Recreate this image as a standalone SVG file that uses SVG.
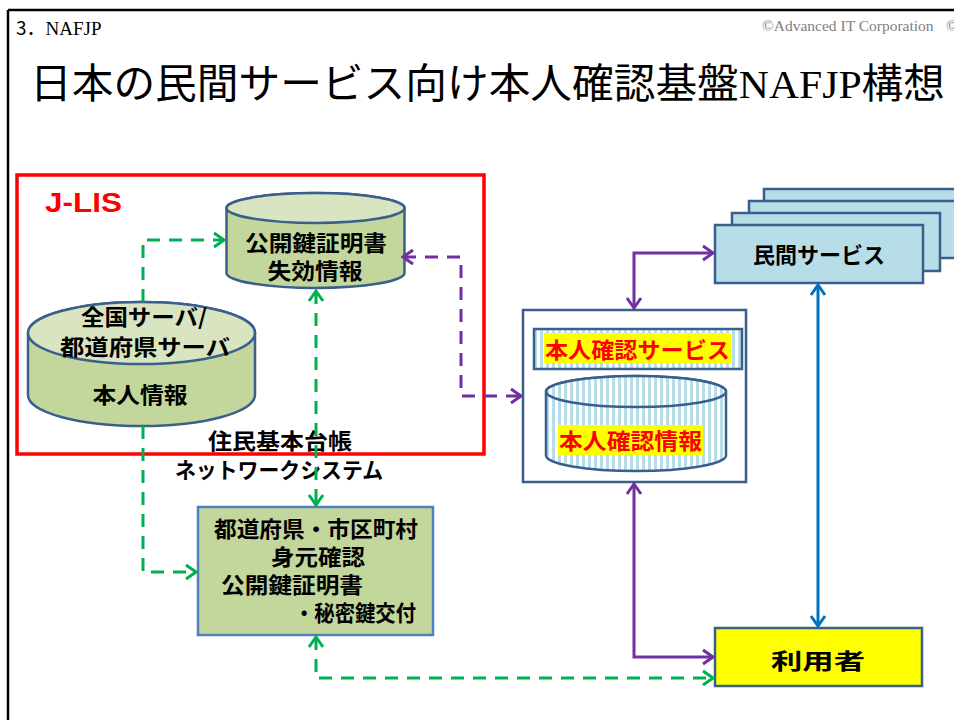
<svg xmlns="http://www.w3.org/2000/svg" width="954" height="720" viewBox="0 0 954 720">
<style>
.jp{font-family:"Noto Sans CJK JP","Noto Sans",sans-serif;font-weight:700;fill:#000}
.lbl{font-size:22px;text-anchor:middle}
.red{fill:#ff0000}
.node{stroke:#3a5f8c;stroke-width:2.5}
.olive{fill:#c3d69b}
.olivetop{fill:#d9e5c0}
.svc{fill:#b7dde8}
.g{fill:none;stroke:#00b050;stroke-width:3;stroke-dasharray:13 9}
.p{fill:none;stroke:#7030a0;stroke-width:3}
.pd{stroke-dasharray:13 9}
.b{fill:none;stroke:#0070c0;stroke-width:3}
</style>
<defs>
<pattern id="stripe" width="6" height="10" patternUnits="userSpaceOnUse">
<rect width="6" height="10" fill="#ffffff"/>
<rect x="0" width="3" height="10" fill="#b7dde8"/>
</pattern>
<marker id="ag" viewBox="0 0 14 18" refX="12" refY="9" markerWidth="14" markerHeight="18" markerUnits="userSpaceOnUse" orient="auto-start-reverse">
<path d="M2,2 L12,9 L2,16" fill="none" stroke="#00b050" stroke-width="3"/>
</marker>
<marker id="ap" viewBox="0 0 14 18" refX="12" refY="9" markerWidth="14" markerHeight="18" markerUnits="userSpaceOnUse" orient="auto-start-reverse">
<path d="M2,2 L12,9 L2,16" fill="none" stroke="#7030a0" stroke-width="3"/>
</marker>
<marker id="ab" viewBox="0 0 14 18" refX="12" refY="9" markerWidth="14" markerHeight="18" markerUnits="userSpaceOnUse" orient="auto-start-reverse">
<path d="M2,2 L12,9 L2,16" fill="none" stroke="#0070c0" stroke-width="3"/>
</marker>
</defs>
<rect width="954" height="720" fill="#ffffff"/>
<g id="frame">
<path d="M8,10 H954 M8,10 V720" fill="none" stroke="#000" stroke-width="2.5"/>
<text x="16" y="35" font-family="Liberation Serif,'Noto Sans CJK JP',serif" font-size="19"><tspan font-family="'Noto Sans CJK JP',sans-serif">3．</tspan>NAFJP</text>
<text x="762" y="31" font-family="Liberation Serif,serif" font-size="15.5" fill="#808080">©Advanced IT Corporation</text>
<text x="946" y="31" font-family="Liberation Serif,serif" font-size="15.5" fill="#808080">©</text>
<text x="30" y="98" font-family="Liberation Serif,'Noto Sans CJK JP',serif" font-size="41" textLength="915" lengthAdjust="spacingAndGlyphs"><tspan font-family="'Noto Sans CJK JP',sans-serif">日本の民間サービス向け本人確認基盤</tspan>NAFJP<tspan font-family="'Noto Sans CJK JP',sans-serif">構想</tspan></text>
</g>
<g id="jlis">
<rect x="17" y="175" width="467" height="279" fill="none" stroke="#ff0000" stroke-width="3.5"/>
<text x="45" y="212" font-family="Liberation Sans,Arial,sans-serif" font-weight="700" font-size="28" fill="#ff0000" textLength="77" lengthAdjust="spacingAndGlyphs">J-LIS</text>
</g>
<g id="cert-db">
<path class="node olive" d="M226.5,208 V273 A89,15 0 0 0 404.5,273 V208 A89,15 0 0 0 226.5,208 Z"/>
<ellipse class="node olivetop" cx="315.5" cy="208" rx="89" ry="15"/>
<text class="jp lbl" x="316" y="251" textLength="142" lengthAdjust="spacingAndGlyphs">公開鍵証明書</text>
<text class="jp lbl" x="315" y="279" textLength="95" lengthAdjust="spacingAndGlyphs">失効情報</text>
</g>
<g id="server-db">
<path class="node olive" d="M28,333 V395 A113.5,31 0 0 0 255,395 V333 A113.5,31 0 0 0 28,333 Z"/>
<ellipse class="node olivetop" cx="141.5" cy="333" rx="113.5" ry="31"/>
<text class="jp lbl" x="144" y="325" textLength="126" lengthAdjust="spacingAndGlyphs">全国サーバ/</text>
<text class="jp lbl" x="145" y="355" textLength="170" lengthAdjust="spacingAndGlyphs">都道府県サーバ</text>
<text class="jp lbl" x="140" y="403" textLength="95" lengthAdjust="spacingAndGlyphs">本人情報</text>
</g>
<g id="network-label">
<text class="jp lbl" x="280" y="449" textLength="144" lengthAdjust="spacingAndGlyphs">住民基本台帳</text>
<text class="jp lbl" x="279" y="478" textLength="208" lengthAdjust="spacingAndGlyphs">ネットワークシステム</text>
</g>
<g id="municipality">
<rect x="198" y="507" width="235" height="128" fill="#c3d69b" stroke="#4f81bd" stroke-width="2.5"/>
<text class="jp lbl" x="316" y="537" textLength="204" lengthAdjust="spacingAndGlyphs">都道府県・市区町村</text>
<text class="jp lbl" x="318" y="565" textLength="94" lengthAdjust="spacingAndGlyphs">身元確認</text>
<text class="jp" font-size="22" x="221" y="593" textLength="142" lengthAdjust="spacingAndGlyphs">公開鍵証明書</text>
<text class="jp" font-size="22" x="416" y="621" text-anchor="end" textLength="122" lengthAdjust="spacingAndGlyphs">・秘密鍵交付</text>
</g>
<g id="private-services">
<rect class="node svc" x="764" y="189" width="208" height="57"/>
<rect class="node svc" x="749" y="201" width="208" height="57"/>
<rect class="node svc" x="732" y="213" width="208" height="58"/>
<rect class="node svc" x="715" y="225" width="208" height="58"/>
<text class="jp lbl" x="819" y="263" font-size="23" textLength="132" lengthAdjust="spacingAndGlyphs">民間サービス</text>
</g>
<g id="id-service">
<rect x="523" y="310" width="223" height="172" fill="#ffffff" stroke="#3a5f8c" stroke-width="2.5"/>
<rect x="534" y="329" width="208" height="40" fill="url(#stripe)" stroke="#3a5f8c" stroke-width="2.5"/>
<rect x="544" y="333" width="187" height="30" fill="#ffff00"/>
<text class="jp lbl red" x="637.5" y="358" font-size="23" textLength="185" lengthAdjust="spacingAndGlyphs">本人確認サービス</text>
<path d="M546,391.5 V455.5 A90,15.5 0 0 0 726,455.5 V391.5 A90,15.5 0 0 0 546,391.5 Z" fill="url(#stripe)" stroke="#3a5f8c" stroke-width="2.5"/>
<ellipse cx="636" cy="391.5" rx="90" ry="15.5" fill="url(#stripe)" stroke="#3a5f8c" stroke-width="2.5"/>
<rect x="558" y="425" width="145" height="30" fill="#ffff00"/>
<text class="jp lbl red" x="630.5" y="449" font-size="23" textLength="143" lengthAdjust="spacingAndGlyphs">本人確認情報</text>
</g>
<g id="user">
<rect x="715" y="628" width="207" height="58" fill="#ffff00" stroke="#3a5f8c" stroke-width="2.5"/>
<text class="jp lbl" x="818" y="669" font-size="31" textLength="94" lengthAdjust="spacingAndGlyphs">利用者</text>
</g>
<g id="connectors">
<path class="g" d="M143,302 V240 H224" marker-end="url(#ag)"/>
<path class="g" d="M143,426 V572 H196" marker-end="url(#ag)"/>
<path class="g" d="M316,291 V505" marker-start="url(#ag)" marker-end="url(#ag)"/>
<path class="g" d="M316,637 V678 H713" marker-start="url(#ag)" marker-end="url(#ag)"/>
<path class="p pd" d="M403,257 H461 V396 H521" marker-start="url(#ap)" marker-end="url(#ap)"/>
<path class="p" d="M713,253 H634 V308" marker-start="url(#ap)" marker-end="url(#ap)"/>
<path class="p" d="M634,484 V657 H713" marker-start="url(#ap)" marker-end="url(#ap)"/>
<path class="b" d="M818,285 V626" marker-start="url(#ab)" marker-end="url(#ab)"/>
</g>
</svg>
